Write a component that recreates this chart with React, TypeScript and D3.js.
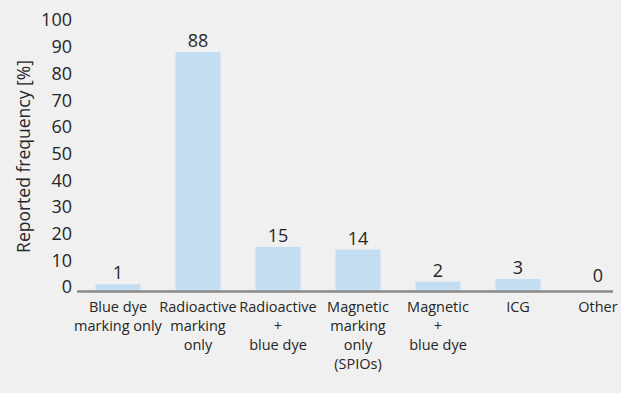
import React from "react";
import * as d3 from "d3";

const categories: string[][] = [
  ["Blue dye", "marking only"],
  ["Radioactive", "marking", "only"],
  ["Radioactive", "+", "blue dye"],
  ["Magnetic", "marking", "only", "(SPIOs)"],
  ["Magnetic", "+", "blue dye"],
  ["ICG"],
  ["Other"],
];
const values: number[] = [1, 88, 15, 14, 2, 3, 0];
const yTicks: number[] = [0, 10, 20, 30, 40, 50, 60, 70, 80, 90, 100];
const yTitle = "Reported frequency [%]";

const W = 621;
const H = 393;
const FONT = "'Open Sans', sans-serif";
const TEXT = "#262626";

export default function App() {
  const keys = categories.map((_, i) => String(i));
  const step = 80;
  const first = 118;
  const x = d3
    .scaleBand<string>()
    .domain(keys)
    .range([first - step / 2, first - step / 2 + step * keys.length])
    .paddingInner(0.437)
    .paddingOuter(0.2185);
  const y = d3.scaleLinear().domain([0, 100]).range([287, 20]);
  const axisY = y(0) + 4.5;
  const axisX0 = 77;
  const axisX1 = 613;

  return (
    <svg
      width={W}
      height={H}
      style={{ position: "absolute", left: 0, top: 0, display: "block" }}
      fontFamily={FONT}
    >
      <rect x={0} y={0} width={W} height={H} fill="#f0f0f0" />
      <text
        transform={`translate(30,${156.5}) rotate(-90)`}
        textAnchor="middle"
        fontSize={17.5}
        fill={TEXT}
      >
        {yTitle}
      </text>
      {yTicks.map((t) => (
        <text
          key={t}
          x={72}
          y={y(t)}
          dy="0.36em"
          textAnchor="end"
          fontSize={18}
          fill={TEXT}
        >
          {t}
        </text>
      ))}
      {values.map((v, i) => {
        const bx = x(keys[i])!;
        const top = y(v);
        return (
          <g key={i}>
            {v > 0 && (
              <rect
                x={bx}
                y={top}
                width={x.bandwidth()}
                height={axisY - top}
                fill="#c3ddf2"
              />
            )}
            <text
              x={bx + x.bandwidth() / 2}
              y={top - 5}
              textAnchor="middle"
              fontSize={18}
              fill={TEXT}
            >
              {v}
            </text>
          </g>
        );
      })}
      <line
        x1={axisX0}
        x2={axisX1}
        y1={axisY}
        y2={axisY}
        stroke="#8a8a8a"
        strokeWidth={2.5}
      />
      {categories.map((lines, i) => (
        <text
          key={i}
          x={x(keys[i])! + x.bandwidth() / 2}
          y={312}
          textAnchor="middle"
          fontSize={14.5}
          fill={TEXT}
        >
          {lines.map((l, j) => (
            <tspan key={j} x={x(keys[i])! + x.bandwidth() / 2} dy={j === 0 ? 0 : 19}>
              {l}
            </tspan>
          ))}
        </text>
      ))}
    </svg>
  );
}
